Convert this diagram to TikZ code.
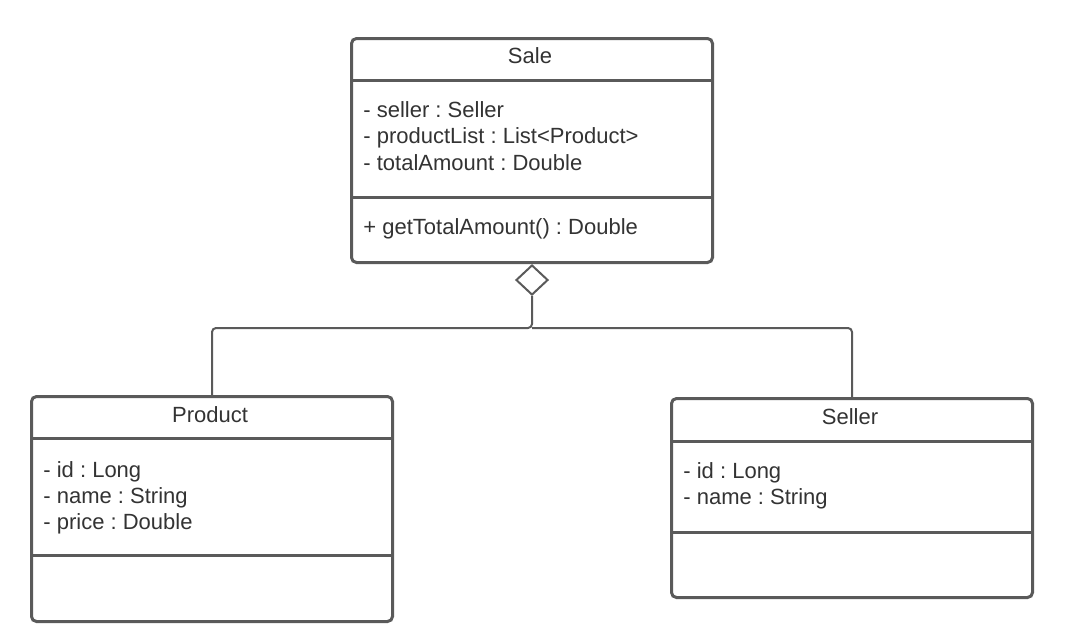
\documentclass[tikz,border=0pt]{standalone}
\usepackage{fontspec}
\setmainfont{Liberation Sans}
\usetikzlibrary{positioning}
\usetikzlibrary{shapes.geometric}
\definecolor{umlline}{HTML}{5A5A5A}
\definecolor{umltext}{HTML}{333333}
\tikzset{x=0.5pt, y=-0.5pt,
    every node/.style={
        text=umltext,
        font=\frenchspacing\fontsize{11}{13.5}\selectfont},
    classbox/.style={
        draw=umlline,
        line width=1.5pt,
        rounded corners=2.5pt,
        fill=white,
        anchor=north west,
        minimum width=180.5pt,
        inner sep=0pt},
    sep/.style={
        draw=umlline,
        line width=1.5pt},
    title/.style={
        anchor=base,
        inner sep=0pt},
    attr/.style={
        anchor=base west,
        inner sep=0pt},
    link/.style={
        draw=umlline,
        line width=1pt,
        rounded corners=2pt}}

\begin{document}
\begin{tikzpicture}
        \useasboundingbox (0,0) rectangle (1071,643);

        \node[classbox, minimum height=112pt] (sale) at (350,37) {};
        \node[classbox, minimum height=112.5pt] (product) at (30,395) {};
        \node[classbox, minimum height=99.5pt] (seller) at (670,397) {};

        \draw[sep] (sale.west |- 0,80) -- (sale.east |- 0,80);
        \draw[sep] (sale.west |- 0,197) -- (sale.east |- 0,197);
        \draw[sep] (product.west |- 0,438) -- (product.east |- 0,438);
        \draw[sep] (product.west |- 0,555) -- (product.east |- 0,555);
        \draw[sep] (seller.west |- 0,441) -- (seller.east |- 0,441);
        \draw[sep] (seller.west |- 0,532) -- (seller.east |- 0,532);

        \node[title] (saletitle) at (530,63) {Sale};
        \node[attr] (sale1) at (363,117) {- seller : Seller};
        \node[attr] (sale2) at (363,143) {- productList : List<Product>};
        \node[attr] (sale3) at (363,170) {- totalAmount : Double};
        \node[attr] (sale4) at (363,234) {+ getTotalAmount() : Double};

        \node[title] (producttitle) at (210,422) {Product};
        \node[attr] (product1) at (43,477) {- id : Long};
        \node[attr] (product2) at (43,503) {- name : String};
        \node[attr] (product3) at (43,529) {- price : Double};

        \node[title] (sellertitle) at (850,424) {Seller};
        \node[attr] (seller1) at (683,478) {- id : Long};
        \node[attr] (seller2) at (683,504) {- name : String};

        \node[diamond, draw=umlline, line width=1pt, fill=white,
              minimum width=16pt, minimum height=15pt, inner sep=0pt,
              anchor=north] (agg) at (sale.south) {};
        \coordinate (split) at (agg.south |- 0,328);
        \draw[link] (agg.south) -- (split) -| (product.north);
        \draw[link] (split) -| (seller.north);
    \end{tikzpicture}
\end{document}
